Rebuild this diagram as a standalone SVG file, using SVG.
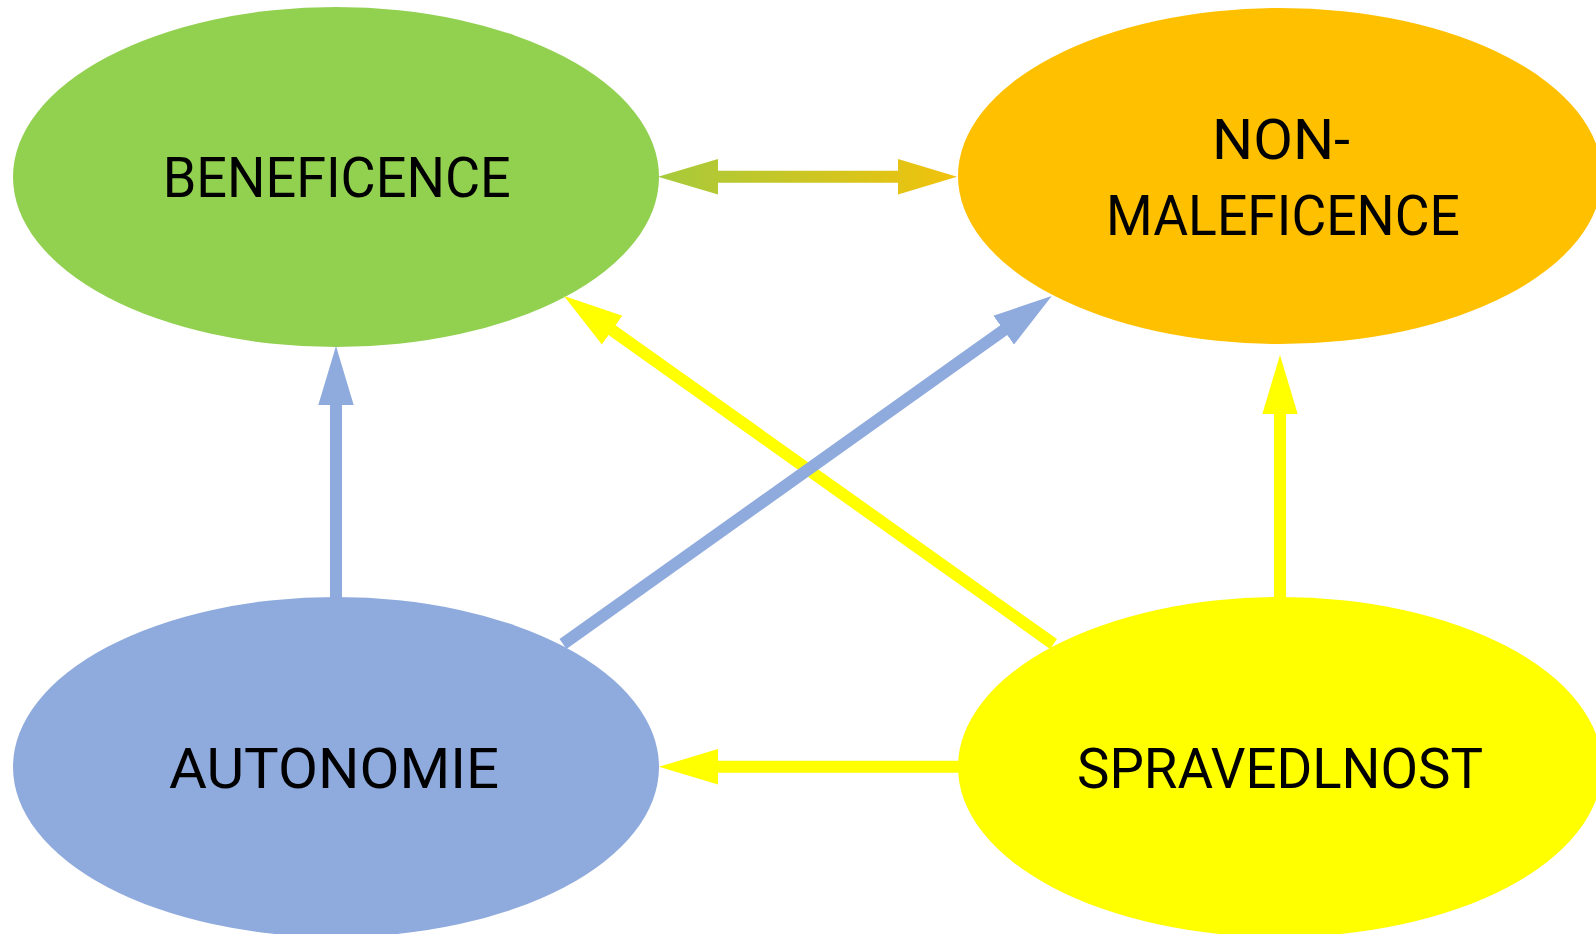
<svg xmlns="http://www.w3.org/2000/svg" width="1596" height="934" viewBox="0 0 1596 934">
<style>
.lbl{font-family:Roboto,"Liberation Sans",sans-serif;font-size:56px;fill:#000;text-anchor:middle}
.blue{stroke:#8FAADC;stroke-width:12;fill:none}
.yel{stroke:#FFFF00;stroke-width:12;fill:none}
</style>
<defs>
<marker id="ahB" markerUnits="userSpaceOnUse" markerWidth="60" markerHeight="36" viewBox="0 -18 60 36" refX="1" refY="0" orient="auto">
<path d="M0,-17.7 L59,0 L0,17.7Z" fill="#8FAADC"/>
</marker>
<marker id="ahY" markerUnits="userSpaceOnUse" markerWidth="60" markerHeight="36" viewBox="0 -18 60 36" refX="1" refY="0" orient="auto">
<path d="M0,-17.7 L59,0 L0,17.7Z" fill="#FFFF00"/>
</marker>
<linearGradient id="gBN" gradientUnits="userSpaceOnUse" x1="658" y1="0" x2="957" y2="0">
<stop offset="0" stop-color="#A6CA3C"/>
<stop offset="1" stop-color="#F2C20B"/>
</linearGradient>
</defs>
<rect width="1596" height="934" fill="#fff"/>
<g id="beneficence">
<ellipse cx="336" cy="177" rx="323" ry="170" fill="#92D050"/>
<text class="lbl" x="336.7" y="197" textLength="348" lengthAdjust="spacingAndGlyphs">BENEFICENCE</text>
</g>
<g id="nonmaleficence">
<ellipse cx="1280" cy="176" rx="322" ry="168" fill="#FFC000"/>
<text class="lbl" x="1281" y="158.5" textLength="138" lengthAdjust="spacingAndGlyphs">NON-</text>
<text class="lbl" x="1283" y="235" textLength="354" lengthAdjust="spacingAndGlyphs">MALEFICENCE</text>
</g>
<g id="autonomie">
<ellipse cx="336" cy="767" rx="323" ry="170" fill="#8FAADC"/>
<text class="lbl" x="334" y="788" textLength="330" lengthAdjust="spacingAndGlyphs">AUTONOMIE</text>
</g>
<g id="spravedlnost">
<ellipse cx="1280" cy="767" rx="322" ry="170" fill="#FFFF00"/>
<text class="lbl" x="1280" y="788" textLength="406" lengthAdjust="spacingAndGlyphs">SPRAVEDLNOST</text>
</g>
<g id="connectors">
<path d="M658,176.7 L718,159 L718,170.7 L898,170.7 L898,159 L957,176.7 L898,194.4 L898,182.7 L718,182.7 L718,194.4 Z" fill="url(#gBN)"/>
<line class="blue" x1="336" y1="599" x2="336" y2="404" marker-end="url(#ahB)"/>
<line class="yel" x1="1280" y1="600" x2="1280" y2="413" marker-end="url(#ahY)"/>
<line class="yel" x1="960" y1="766.8" x2="717" y2="766.8" marker-end="url(#ahY)"/>
<line class="yel" x1="1053.5" y1="644" x2="611.3" y2="329.6" marker-end="url(#ahY)"/>
<line class="blue" x1="563" y1="644" x2="1004.5" y2="329.6" marker-end="url(#ahB)"/>
</g>
</svg>
